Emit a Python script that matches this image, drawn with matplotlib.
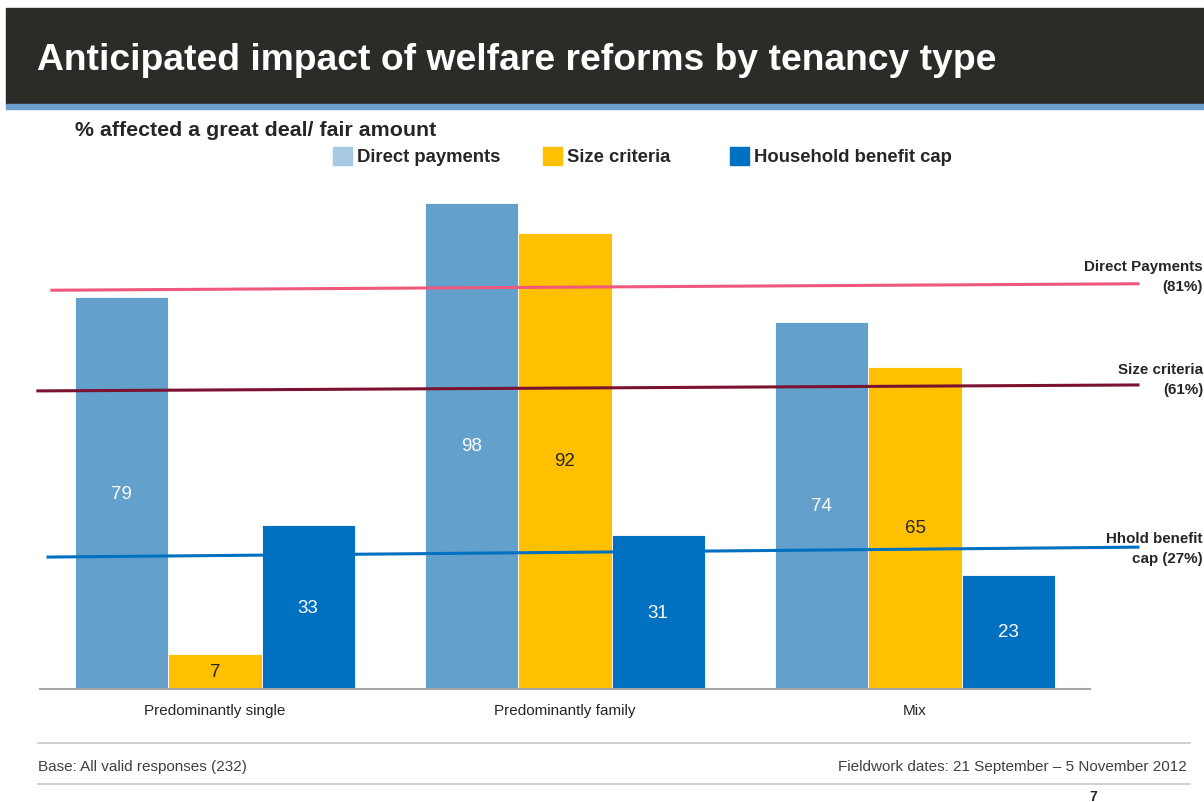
import matplotlib.pyplot as plt
import numpy as np

# Data
categories = ["Predominantly single", "Predominantly family", "Mix"]
direct_payments = [79, 98, 74]
size_criteria = [7, 92, 65]
benefit_cap = [33, 31, 23]

series_names = ["Direct payments", "Size criteria", "Household benefit cap"]
series_colors = ["#63A0CB", "#FFC000", "#0070C0"]
legend_colors = ["#A8C9E4", "#FFC000", "#0070C0"]
label_colors = ["white", "#262626", "white"]

# Average lines (drawn slightly sloped as in the original slide)
avg_names = ["Direct Payments\n(81%)", "Size criteria\n(61%)", "Hhold benefit\ncap (27%)"]
avg_left = [80.4, 60.1, 26.6]
avg_right = [81.7, 61.3, 28.6]
avg_x_left = [-0.466, -0.506, -0.477]
avg_colors = ["#F0587C", "#7B1230", "#0070C0"]

plt.rcParams['font.family'] = ['Liberation Sans', 'DejaVu Sans']

W, H = 1204, 803
fig = plt.figure(figsize=(W / 100, H / 100), dpi=100)

# Header band
fig.patches.append(plt.Rectangle((6 / W, 1 - 105 / H), 1 - 6 / W, 96 / H,
                                 transform=fig.transFigure, color="#2B2B27", zorder=0))
fig.patches.append(plt.Rectangle((6 / W, 1 - 110 / H), 1 - 6 / W, 5 / H,
                                 transform=fig.transFigure, color="#6A9FCB", zorder=0))
fig.text(37 / W, 1 - 60 / H, "Anticipated impact of welfare reforms by tenancy type",
         color="white", fontsize=26.8, fontweight="bold", va="center", ha="left")

fig.text(75 / W, 1 - 130 / H, "% affected a great deal/ fair amount",
         fontsize=15.4, fontweight="bold", color="#262626", va="center")

# Legend
legend_x = [333, 543, 730]
for lx, name, col in zip(legend_x, series_names, legend_colors):
    fig.patches.append(plt.Rectangle((lx / W, 1 - 166 / H), 19 / W, 18 / H,
                                     transform=fig.transFigure, color=col))
    fig.text((lx + 24) / W, 1 - 157 / H, name, fontsize=13.3, fontweight="bold",
             color="#262626", va="center")

# Chart
ax = fig.add_axes([40 / W, 113 / H, 1050 / W, 496 / H])
x = np.arange(len(categories))
width = 0.266
all_series = [direct_payments, size_criteria, benefit_cap]
for i, (vals, col, lcol) in enumerate(zip(all_series, series_colors, label_colors)):
    pos = x + (i - 1) * width
    bars = ax.bar(pos, vals, width, color=col, edgecolor="white", linewidth=0.6, zorder=2)
    for b, v in zip(bars, vals):
        ax.text(b.get_x() + b.get_width() / 2, v / 2, str(v), ha="center", va="center",
                color=lcol, fontsize=13.5, zorder=4)

x_right = 2.637
for yl, yr, xl, col in zip(avg_left, avg_right, avg_x_left, avg_colors):
    ax.plot([xl, x_right], [yl, yr], color=col, linewidth=2.2, clip_on=False, zorder=3)

ax.set_xlim(-0.5, 2.5)
ax.set_ylim(0, 100)
ax.set_xticks(x)
ax.set_xticklabels(categories, fontsize=11, color="#262626")
ax.tick_params(axis="x", length=0, pad=10)
ax.set_yticks([])
for s in ["top", "right", "left"]:
    ax.spines[s].set_visible(False)
ax.spines["bottom"].set_color("#A6A6A6")
ax.spines["bottom"].set_linewidth(1.5)

# Labels for the average lines at the right edge
label_y = [277, 380, 549]
for name, ly in zip(avg_names, label_y):
    fig.text(1203 / W, 1 - ly / H, name, ha="right", va="center", fontsize=10.9,
             fontweight="bold", color="#262626", linespacing=1.5)

# Footer
fig.add_artist(plt.Line2D([38 / W, 1190 / W], [1 - 744 / H, 1 - 744 / H],
                          color="#C8C8C8", linewidth=1.2))
fig.add_artist(plt.Line2D([38 / W, 1190 / W], [1 - 785 / H, 1 - 785 / H],
                          color="#C8C8C8", linewidth=1.2))
fig.text(38 / W, 1 - 767 / H, "Base: All valid responses (232)", fontsize=11,
         color="#404040", va="center")
fig.text(1187 / W, 1 - 767 / H, "Fieldwork dates: 21 September \u2013 5 November 2012",
         fontsize=11, color="#404040", va="center", ha="right")
fig.text(1093 / W, 1 - 797 / H, "7", fontsize=10, fontweight="bold", color="#262626",
         va="center", ha="center")

fig.savefig("out.png", dpi=100)
